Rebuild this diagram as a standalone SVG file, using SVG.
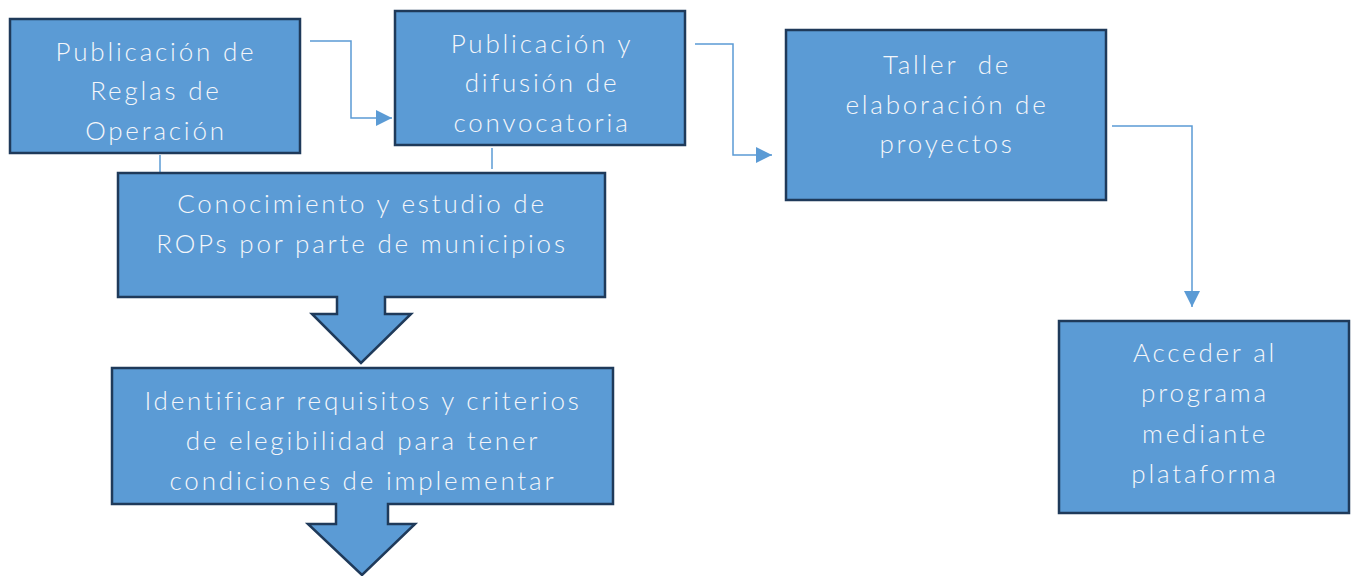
<svg xmlns="http://www.w3.org/2000/svg" width="1356" height="576" viewBox="0 0 1356 576">
<style>
.box{fill:#5b9bd5;stroke:#1f3a5a;stroke-width:2.5}
.t{font-family:Lato,"Open Sans","Liberation Sans",sans-serif;font-weight:300;font-size:26px;fill:#f4f6fa;text-anchor:middle;letter-spacing:2.8px}
.c{fill:none;stroke:#5b9bd5;stroke-width:1.5}
</style>
<defs>
<marker id="ahr" viewBox="0 0 16 16" markerWidth="16" markerHeight="16" refX="16" refY="8" orient="auto" markerUnits="userSpaceOnUse">
<path d="M0,0 L16,8 L0,16 Z" fill="#5b9bd5"/>
</marker>
</defs>
<rect width="1356" height="576" fill="#ffffff"/>
<g id="connectors">
<path class="c" d="M310,41 H351 V118 H392" marker-end="url(#ahr)"/>
<path class="c" d="M695,44 H733 V155 H772" marker-end="url(#ahr)"/>
<path class="c" d="M1112,126 H1192 V307" marker-end="url(#ahr)"/>
<line class="c" x1="160" y1="155" x2="160" y2="173"/>
<line class="c" x1="492" y1="148" x2="492" y2="169"/>
</g>
<g id="n-conocimiento">
<path class="box" d="M118,173 H605 V297 H385 V314 H411 L361,363 L312,314 H337 V297 H118 Z"/>
<text class="t" x="362" y="213">Conocimiento y estudio de</text>
<text class="t" x="362" y="253">ROPs por parte de municipios</text>
</g>
<g id="n-reglas">
<rect class="box" x="10" y="19" width="290" height="134"/>
<text class="t" x="156" y="61">Publicación de</text>
<text class="t" x="156" y="100">Reglas de</text>
<text class="t" x="156" y="140">Operación</text>
</g>
<g id="n-convocatoria">
<rect class="box" x="395" y="11" width="290" height="134"/>
<text class="t" x="542" y="53">Publicación y</text>
<text class="t" x="542" y="92">difusión de</text>
<text class="t" x="542" y="132">convocatoria</text>
</g>
<g id="n-taller">
<rect class="box" x="786" y="30" width="320" height="170"/>
<text class="t" x="947" y="74" xml:space="preserve">Taller  de</text>
<text class="t" x="947" y="114">elaboración de</text>
<text class="t" x="947" y="153">proyectos</text>
</g>
<g id="n-acceder">
<rect class="box" x="1059" y="321" width="290" height="192"/>
<text class="t" x="1205" y="362">Acceder al</text>
<text class="t" x="1205" y="402">programa</text>
<text class="t" x="1205" y="443">mediante</text>
<text class="t" x="1205" y="483">plataforma</text>
</g>
<g id="n-identificar">
<path class="box" d="M112,368 H613 V504 H388 V524 H415 L362,575 L308,524 H336 V504 H112 Z"/>
<text class="t" x="363" y="410">Identificar requisitos y criterios</text>
<text class="t" x="363" y="450">de elegibilidad para tener</text>
<text class="t" x="363" y="490">condiciones de implementar</text>
</g>
</svg>
